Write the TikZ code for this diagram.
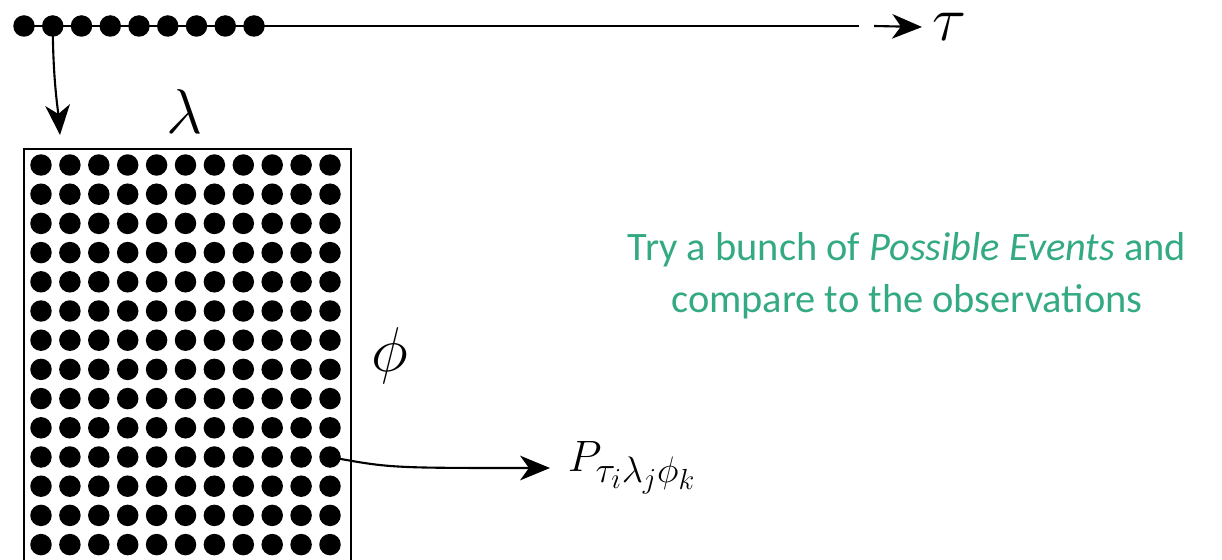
\documentclass[tikz,border=0pt]{standalone}
\usepackage{fix-cm}
\usepackage{amsmath}
\usepackage{fontspec}
\newfontfamily\notefont{Carlito}
\usepackage{tikz}
\usetikzlibrary{arrows.meta}
\definecolor{notegreen}{RGB}{52,170,132}
\DeclareMathSizes{25}{25}{21}{16.5}

\begin{document}
\begin{tikzpicture}[x=0.02cm,y=-0.02cm,>={Stealth[length=17pt,width=14pt,inset=5pt]},
  dot/.style={circle,fill=black,inner sep=0pt,minimum size=0.43cm},
  link/.style={line width=1.2pt,->},
  bigsym/.style={font=\fontsize{36}{40}\selectfont,inner sep=0pt}]
\clip (0,0) rectangle (1222,560);
% time axis
\draw[line width=1.2pt] (24,26) coordinate (tzero) -- (859,26) coordinate (tend);
\foreach \i in {1,...,9}
  \node[dot] (t\i) at ({24+28.75*(\i-1)},26) {};
\coordinate (tstart) at (874,26);
\node[bigsym,anchor=west,inner xsep=5.5pt] (tau) at (922,27) {$\tau$};
\draw[link] (tstart)--(tau.west);
% grid of events
\node[draw,line width=1.3pt,minimum width=6.54cm,minimum height=9.4cm,inner sep=0pt,anchor=north west] (box) at (23,148) {};
\foreach \r in {0,...,13}
  \foreach \c in {0,...,10}
    \node[dot] (g\r-\c) at ({41+28.9*\c},{165+29.2*\r}) {};
\node[bigsym] (lam) at (185,112) {$\lambda$};
\node[bigsym] (phi) at (390,356) {$\phi$};
\coordinate (boxin) at (60,135);
\draw[link] (t2.center) .. controls (53,80) and (58,110) .. (boxin);
\node[anchor=west,font=\fontsize{25}{28}\selectfont,inner xsep=10pt] (prob) at (550,468) {$P_{\tau_i\lambda_j\phi_k}$};
\draw[link] (g10-10.center) .. controls (390,468) .. (prob.west);
% comment text
\node[font=\notefont\fontsize{23}{29.5}\selectfont,text=notegreen,align=center] (note) at (907,276) {Try a bunch of \textit{Possible Events} and\\compare to the observations};
\end{tikzpicture}
\end{document}
